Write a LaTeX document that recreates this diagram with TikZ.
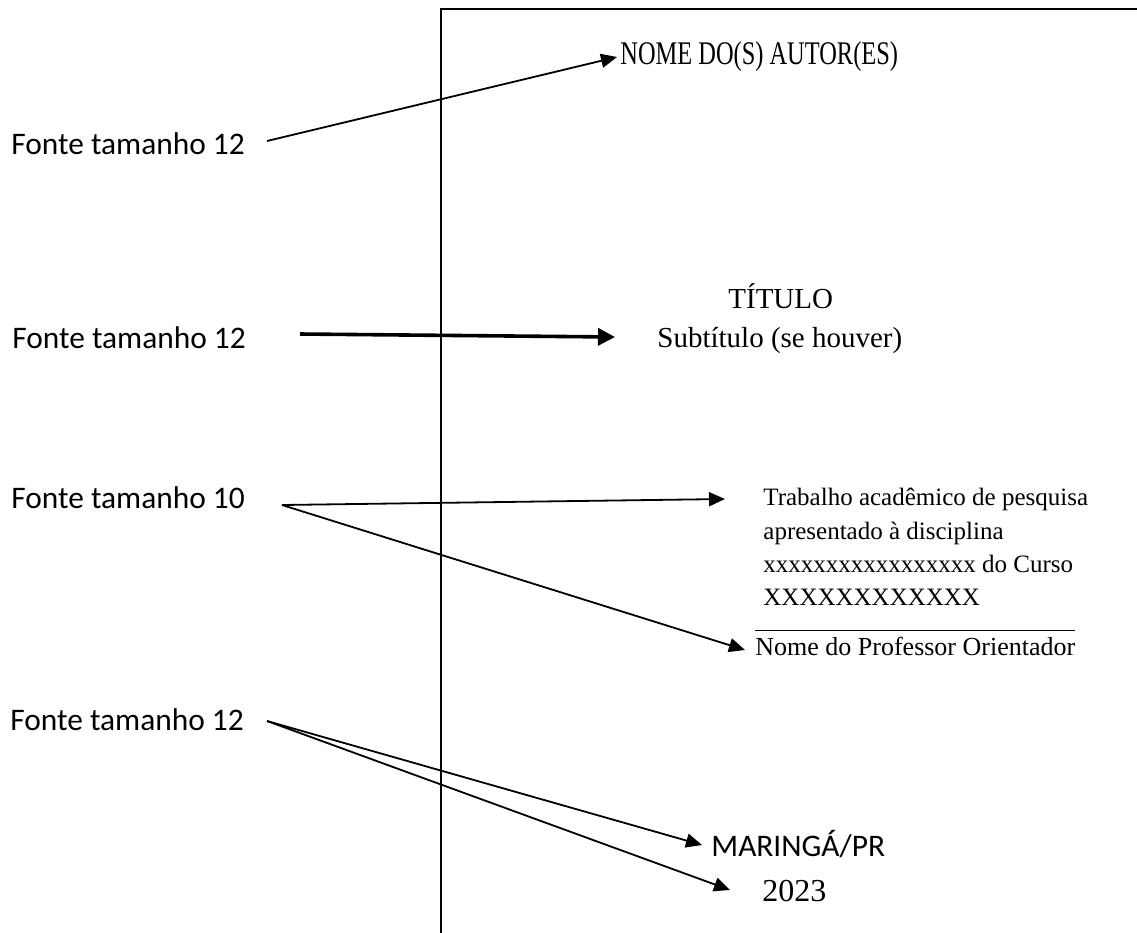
\documentclass[tikz,border=0pt]{standalone}
\usepackage{fontspec}
\setmainfont{Liberation Serif}
\newfontfamily\labelfont{Carlito}
\usetikzlibrary{arrows.meta,calc}
\begin{document}
\begin{tikzpicture}[x=0.5pt,y=-0.5pt,
  note/.style={font=\labelfont\fontsize{15.7}{18}\selectfont, inner sep=0pt, anchor=west},
  serif/.style={inner sep=0pt, anchor=west},
  body/.style={font=\fontsize{12.5}{15}\selectfont, inner sep=0pt, anchor=base west},
  arr/.style={line width=0.9pt, -{Triangle[length=8pt,width=7pt]}},
  bold arr/.style={line width=1.8pt, -{Triangle[length=8.5pt,width=8.5pt]}},
  frame/.style={line width=1pt}]
\useasboundingbox (0,0) rectangle (1137,933);

% page frame
\draw[frame] (441,933) -- (441,9) -- (1137,9);

% size notes on the left
\node[note] (f1) at (11,144) {Fonte tamanho 12};
\node[note] (f2) at (12,338) {Fonte tamanho 12};
\node[note] (f3) at (11,498) {Fonte tamanho 10};
\node[note] (f4) at (10,720) {Fonte tamanho 12};

% cover page contents
\node[serif, font=\fontsize{16.5}{19}\selectfont] (nome) at (620,57)
  {\scalebox{0.74}[1]{NOME DO(S) AUTOR(ES)}};
\node[serif, font=\fontsize{14.5}{17}\selectfont] (tit) at (728,296) {TÍTULO};
\node[serif, font=\fontsize{14.5}{17}\selectfont, anchor=base west] (sub) at (657,347) {Subtítulo (se houver)};

\node[body] (t1) at (763,505) {Trabalho acadêmico de pesquisa};
\node[body] (t2) at (763,539) {apresentado à disciplina};
\node[body] (t3) at (763,572) {xxxxxxxxxxxxxxxxx do Curso};
\node[body] (t4) at (763,605) {XXXXXXXXXXXX};
\coordinate (u1) at (755,630);
\coordinate (u2) at (1075,630);
\draw[line width=0.5pt] (u1) -- (u2);
\node[body, font=\fontsize{13}{15}\selectfont] (prof) at (755,655) {Nome do Professor Orientador};

\node[note] (city) at (711,844) {MARINGÁ/PR};
\node[serif, font=\fontsize{16}{19}\selectfont] (year) at (762,891) {2023};

% connectors
\coordinate (s1) at (267,141);
\coordinate (s2) at (300,334);
\coordinate (s3) at (282,505);
\coordinate (s4) at (267,721);
\draw[arr] (s1) -- ($(nome.west)+(-3,0)$);
\draw[bold arr] (s2) -- ($(sub.base west)+(-42,-10)$);
\draw[arr] (s3) -- ($(t1.base west)+(-38,-6)$);
\draw[arr] (s3) -- ($(prof.base west)+(-10,-5)$);
\draw[arr] (s4) -- ($(city.west)+(-9,1)$);
\draw[arr] (s4) -- ($(year.west)+(-32,-1)$);
\end{tikzpicture}
\end{document}
